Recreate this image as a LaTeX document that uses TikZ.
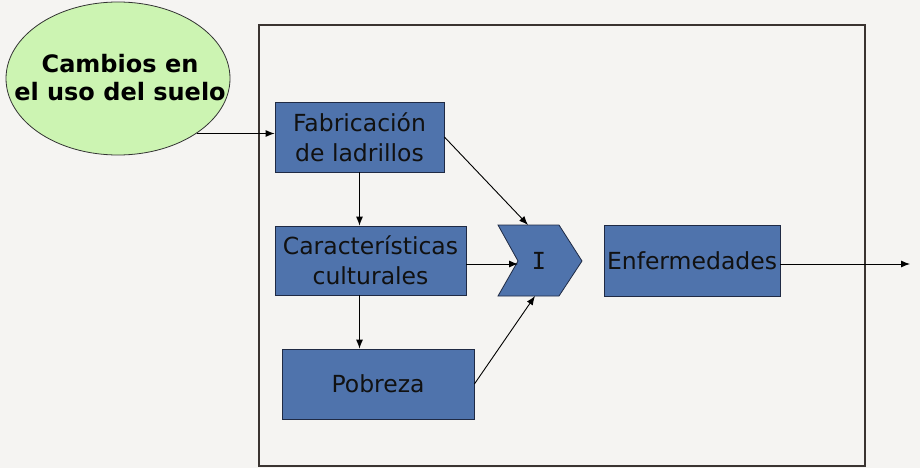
\documentclass[tikz,border=0pt]{standalone}
\usepackage{fontspec}
\setmainfont{DejaVu Sans}
\newfontfamily\monofam{DejaVu Sans Mono}
\usetikzlibrary{shapes.geometric,arrows.meta}
\definecolor{bg}{HTML}{F5F4F2}
\definecolor{boxblue}{HTML}{4F73AC}
\definecolor{boxedge}{HTML}{1F2A44}
\definecolor{ellgreen}{HTML}{CCF4B2}
\definecolor{txt}{HTML}{111111}
\definecolor{framec}{HTML}{3A3431}
\begin{document}
\begin{tikzpicture}[x=1pt,y=-1pt,
  bluebox/.style={draw=boxedge, fill=boxblue, line width=0.8pt, text=txt,
    font=\fontsize{23.5}{30}\selectfont, align=center, inner sep=0pt},
  arr/.style={draw=black, line width=0.9pt, -{Latex[length=9pt,width=7pt]}}]
\fill[bg] (0,0) rectangle (920,468);
\useasboundingbox (0,0) rectangle (920,468);
% frame
\draw[framec, line width=1.3pt] (259,25) rectangle (865,466);
% ellipse
\node[ellipse, draw=black!80, line width=0.8pt, fill=ellgreen, minimum width=224pt,
  minimum height=153pt, inner sep=0pt] (cambio) at (118,78.5) {};
\node[align=center, inner sep=0pt, font=\bfseries\fontsize{24}{28}\selectfont]
  (cambiotxt) at (120,78) {Cambios en\\el uso del suelo};
% boxes
\node[bluebox, minimum width=169pt, minimum height=70pt] (fab) at (359.5,137)
  {Fabricación\\de ladrillos};
\node[bluebox, minimum width=191pt, minimum height=69pt] (car) at (370.5,260.5)
  {Características\\culturales};
\node[bluebox, minimum width=192pt, minimum height=70pt] (pob) at (378,384)
  {Pobreza};
\node[bluebox, minimum width=176pt, minimum height=71pt] (enf) at (692,260.5)
  {Enfermedades};
% chevron
\coordinate (c1) at (498,225);
\coordinate (c2) at (559,225);
\coordinate (c3) at (582,261);
\coordinate (c4) at (559,296);
\coordinate (c5) at (498,296);
\coordinate (c6) at (518,261);
\draw[draw=boxedge, fill=boxblue, line width=0.8pt] (c1) -- (c2) -- (c3) -- (c4) -- (c5) -- (c6) -- cycle;
\node[text=txt, font=\monofam\fontsize{23.5}{28}\selectfont, inner sep=0pt] (ichev) at (539,261) {I};
\coordinate (chtop) at (528,225);
\coordinate (chin) at (518,264);
\coordinate (chbot) at (535,296);
\coordinate (out) at (910,264);
% connectors
\draw[arr] (cambio.-35) -- (cambio.-35 -| fab.west);
\draw[arr] (fab.south) -- (fab.south |- car.north);
\draw[arr] (fab.south |- car.south) -- (fab.south |- pob.north);
\draw[arr] (fab.east) -- (chtop);
\draw[arr] (car.east |- chin) -- (chin);
\draw[arr] (pob.east) -- (chbot);
\draw[arr] (enf.east |- out) -- (out);
\end{tikzpicture}
\end{document}
